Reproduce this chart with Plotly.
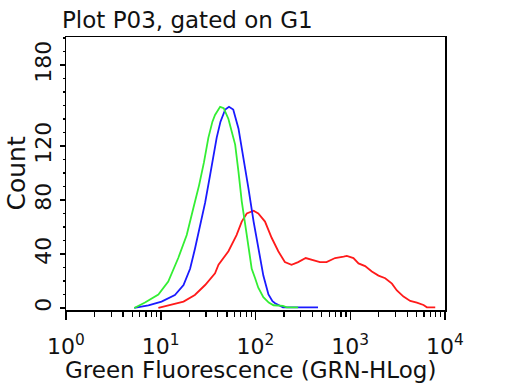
import plotly.graph_objects as go

# Fluorescence intensity (GRN-HLog) and counts
green_x = [5.25, 6.82, 9.44, 12.0, 15.3, 18.8, 22.1, 25.4, 28.6, 31.8, 35.1, 37.4,
           42.3, 46.2, 51.8, 61.0, 66.1, 71.6, 80.9, 91.2, 99.1, 107, 121, 138,
           155, 195, 214, 282]
green_y = [0, 4, 10, 19.5, 37, 54, 74, 91, 108, 126, 138, 143,
           149, 148, 140, 121, 101, 79, 54, 29, 22, 15, 8, 4,
           2, 1.5, 0.5, 0.5]

blue_x = [5.25, 7.41, 10.2, 14.1, 17.4, 20.4, 23.0, 26.0, 29.4, 33.1, 36.0, 38.9,
          42.7, 47.9, 52.5, 58.2, 66.1, 74.1, 84.1, 95.5, 107, 121, 137, 151,
          161, 195, 457]
blue_y = [0, 2, 4.7, 9.6, 17, 29, 44, 61, 78, 98, 112, 126,
          138, 147, 149, 147, 133, 113, 89, 64, 44, 24, 10, 5,
          3.5, 0.5, 0.5]

red_x = [9.44, 12.0, 17.4, 22.9, 29.4, 37.4, 40.7, 51.8, 63.1, 71.6, 80.9, 95.5,
         107, 126, 148, 174, 204, 240, 282, 339, 407, 479, 562, 692,
         851, 920, 1081, 1222, 1435, 1690, 1986, 2339, 2754, 3105, 3648, 4295,
         5047, 5929, 6442, 7889]
red_y = [0, 2, 4.7, 9.6, 17, 25.7, 32, 42, 54, 64, 70, 72,
         70, 64, 52, 42, 34, 32, 34, 37, 35.6, 34, 34, 37,
         38, 38.5, 37, 33, 31, 27, 24, 22, 18, 13, 8.4, 5.2,
         4, 2.2, 0.5, 0.5]

x_tickvals = [1, 10, 100, 1000, 10000]
x_ticktext = ["10<sup>0</sup>", "10<sup>1</sup>", "10<sup>2</sup>",
              "10<sup>3</sup>", "10<sup>4</sup>"]
y_tickvals = [0, 40, 80, 120, 180]

TITLE = "Plot P03, gated on G1"
X_TITLE = "Green Fluorescence (GRN-HLog)"
Y_TITLE = "Count"

FONT = "DejaVu Sans"

fig = go.Figure()
fig.add_trace(go.Scatter(x=red_x, y=red_y, mode="lines",
                         line=dict(color="#ff1a1a", width=1.8), showlegend=False))
fig.add_trace(go.Scatter(x=blue_x, y=blue_y, mode="lines",
                         line=dict(color="#1a1aff", width=1.8), showlegend=False))
fig.add_trace(go.Scatter(x=green_x, y=green_y, mode="lines",
                         line=dict(color="#33ee33", width=1.8), showlegend=False))

fig.update_layout(
    width=512, height=384,
    margin=dict(l=66, r=67, t=37, b=74, autoexpand=False),
    paper_bgcolor="white", plot_bgcolor="white",
    font=dict(family=FONT, color="#111111"),
    hovermode=False,
    title=dict(text=TITLE, x=62/512, xanchor="left",
               y=1-20/384, yanchor="middle", yref="container",
               font=dict(size=23, family=FONT, color="#111111")),
    annotations=[
        dict(text=X_TITLE, xref="paper", yref="paper", x=0.5, y=0,
             xanchor="center", yanchor="middle", xshift=-5, yshift=-60,
             showarrow=False, font=dict(size=23, family=FONT, color="#111111")),
        dict(text=Y_TITLE, xref="paper", yref="paper", x=0, y=0.5,
             xanchor="center", yanchor="middle", xshift=-50, textangle=-90,
             showarrow=False, font=dict(size=25, family=FONT, color="#111111")),
    ],
)
fig.update_xaxes(
    type="log", range=[0, 4], automargin=False,
    tickvals=x_tickvals, ticktext=x_ticktext,
    ticks="outside", ticklen=8, tickwidth=1.5, tickcolor="black",
    tickfont=dict(size=22, family=FONT), ticklabelstandoff=8,
    minor=dict(ticks="outside", ticklen=5, tickwidth=1.2, tickcolor="black",
               dtick="D1", showgrid=False),
    showline=True, linecolor="black", linewidth=1.5, mirror=True,
    showgrid=False, zeroline=False,
)
fig.update_yaxes(
    range=[-1.5, 200.7], automargin=False,
    tickvals=y_tickvals, tickangle=-90,
    ticks="outside", ticklen=5, tickwidth=1.5, tickcolor="black",
    tickfont=dict(size=22, family=FONT),
    minor=dict(ticks="outside", ticklen=2, tickwidth=1.2, tickcolor="black",
               dtick=10, tick0=0, showgrid=False),
    showline=True, linecolor="black", linewidth=1.5, mirror=True,
    showgrid=False, zeroline=False,
)

# remove the page's default 8px body margin so the figure sits at (0, 0)
fig.write_html("out.html",
               config={"displayModeBar": False, "staticPlot": True},
               post_script="document.body.style.margin='0';document.body.style.padding='0';")
